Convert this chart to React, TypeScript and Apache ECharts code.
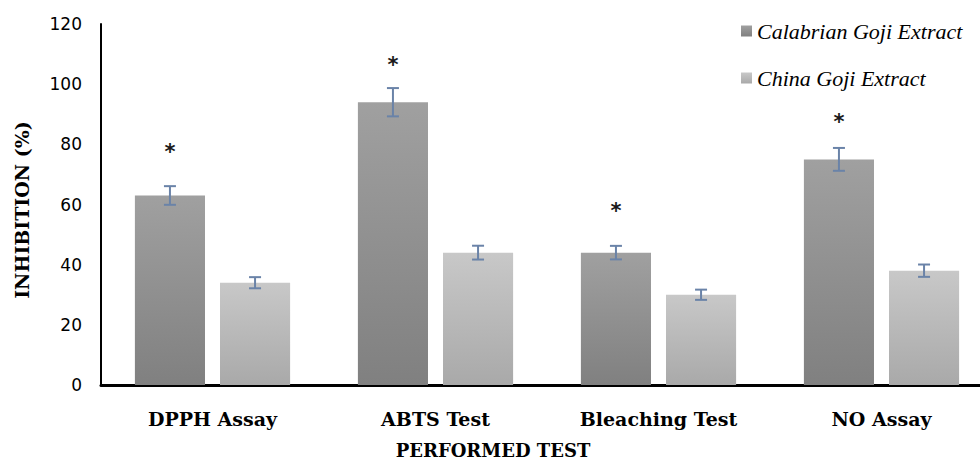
import React, { useEffect, useRef } from "react";
import * as echarts from "echarts";

const categories = ["DPPH Assay", "ABTS Test", "Bleaching Test", "NO Assay"];
const seriesNames = ["Calabrian Goji Extract", "China Goji Extract"];
const calabrianValues = [63, 94, 44, 75];
const calabrianErrors = [3.1, 4.7, 2.25, 3.8];
const chinaValues = [34, 44, 30, 38];
const chinaErrors = [1.85, 2.3, 1.7, 2.05];
const asteriskPositions = [78.5, 107.3, 58.7, 88.4];
const yTicks = { min: 0, max: 120, interval: 20 };
const xAxisTitle = "PERFORMED TEST";
const yAxisTitle = "INHIBITION (%)";

const CAT_GAP = 0.304;
const BAR_GAP = 0.214;

function barOffset(api: any, seriesIdx: number) {
  const band = api.size([1, 0])[0];
  const groupW = band * (1 - CAT_GAP);
  const barW = groupW / (2 + BAR_GAP);
  const off = (barW + barW * BAR_GAP) / 2;
  return seriesIdx === 0 ? -off : off;
}

function errorSeries(values: number[], errors: number[], seriesIdx: number) {
  return {
    type: "custom",
    name: "err" + seriesIdx,
    z: 10,
    silent: true,
    clip: false,
    data: values.map((v, i) => [i, v - errors[i], v + errors[i]]),
    renderItem: (params: any, api: any) => {
      const i = api.value(0);
      const lo = api.coord([i, api.value(1)]);
      const hi = api.coord([i, api.value(2)]);
      const x = lo[0] + barOffset(api, seriesIdx);
      const cap = 6;
      const st = { stroke: "#6a83a8", lineWidth: 2 };
      return {
        type: "group",
        children: [
          { type: "line", shape: { x1: x, y1: lo[1], x2: x, y2: hi[1] }, style: st },
          { type: "line", shape: { x1: x - cap, y1: lo[1], x2: x + cap, y2: lo[1] }, style: st },
          { type: "line", shape: { x1: x - cap, y1: hi[1], x2: x + cap, y2: hi[1] }, style: st },
        ],
      };
    },
  };
}

export default function App() {
  const ref = useRef<HTMLDivElement>(null);
  useEffect(() => {
    if (!ref.current) return;
    const chart = echarts.init(ref.current, null, { renderer: "svg" });
    const darkGrad = new echarts.graphic.LinearGradient(0, 0, 0, 1, [
      { offset: 0, color: "#a0a0a0" },
      { offset: 1, color: "#808080" },
    ]);
    const lightGrad = new echarts.graphic.LinearGradient(0, 0, 0, 1, [
      { offset: 0, color: "#c8c8c8" },
      { offset: 1, color: "#a9a9a9" },
    ]);
    chart.setOption({
      animation: false,
      backgroundColor: "#ffffff",
      grid: {
        left: 101,
        width: 892,
        top: 24,
        bottom: 77,
        containLabel: false,
        outerBoundsMode: "none",
      },
      legend: {
        data: seriesNames,
        orient: "vertical",
        left: 741,
        top: 20,
        padding: 0,
        itemWidth: 11,
        itemHeight: 11,
        itemGap: 25,
        icon: "rect",
        textStyle: {
          fontFamily: "Liberation Serif",
          fontStyle: "italic",
          fontSize: 22,
          color: "#000",
        },
      },
      xAxis: {
        type: "category",
        data: categories,
        axisLine: { show: true, lineStyle: { color: "#000", width: 3 } },
        axisTick: { show: false },
        axisLabel: {
          margin: 24,
          fontFamily: "DejaVu Serif",
          fontWeight: "bold",
          fontSize: 19,
          color: "#000",
        },
        splitLine: { show: false },
      },
      yAxis: {
        type: "value",
        min: yTicks.min,
        max: yTicks.max,
        interval: yTicks.interval,
        axisLine: { show: true, lineStyle: { color: "#000", width: 2 } },
        axisTick: { show: false },
        axisLabel: {
          margin: 19,
          fontFamily: "DejaVu Sans",
          fontSize: 17,
          color: "#000",
        },
        splitLine: { show: false },
      },
      graphic: [
        {
          type: "text",
          x: 22,
          y: 210,
          rotation: Math.PI / 2,
          style: {
            text: yAxisTitle,
            font: 'bold 19px "DejaVu Serif"',
            fill: "#000",
            align: "center",
            verticalAlign: "middle",
          },
        },
        {
          type: "text",
          x: 493,
          y: 450,
          style: {
            text: xAxisTitle,
            font: 'bold 18px "DejaVu Serif"',
            fill: "#000",
            align: "center",
            verticalAlign: "middle",
          },
        },
      ],
      series: [
        {
          type: "bar",
          name: seriesNames[0],
          data: calabrianValues,
          barCategoryGap: CAT_GAP * 100 + "%",
          barGap: BAR_GAP * 100 + "%",
          itemStyle: { color: darkGrad },
        },
        {
          type: "bar",
          name: seriesNames[1],
          data: chinaValues,
          barCategoryGap: CAT_GAP * 100 + "%",
          barGap: BAR_GAP * 100 + "%",
          itemStyle: { color: lightGrad },
        },
        errorSeries(calabrianValues, calabrianErrors, 0),
        errorSeries(chinaValues, chinaErrors, 1),
        {
          type: "custom",
          name: "asterisks",
          z: 10,
          silent: true,
          clip: false,
          data: asteriskPositions.map((v, i) => [i, v]),
          renderItem: (params: any, api: any) => {
            const p = api.coord([api.value(0), api.value(1)]);
            return {
              type: "text",
              x: p[0] + barOffset(api, 0),
              y: p[1] + 3,
              style: {
                text: "*",
                font: 'bold 21px "DejaVu Sans"',
                fill: "#1a1a1a",
                align: "center",
                verticalAlign: "middle",
              },
            };
          },
        },
      ],
    });
    return () => chart.dispose();
  }, []);
  return (
    <div
      ref={ref}
      style={{ position: "fixed", left: 0, top: 0, width: 980, height: 462, background: "#fff" }}
    />
  );
}
